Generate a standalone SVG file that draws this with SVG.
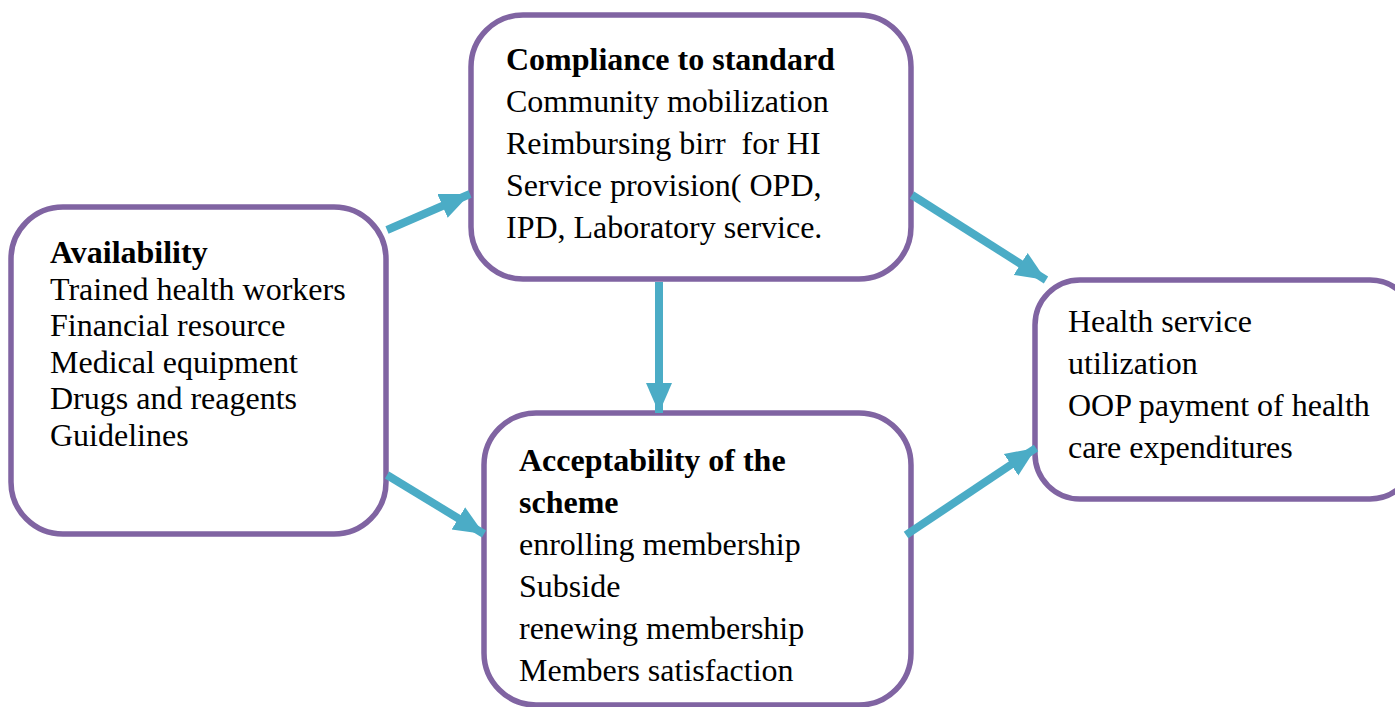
<svg xmlns="http://www.w3.org/2000/svg" width="1395" height="707" viewBox="0 0 1395 707">
  <defs>
    <style>
      .box { fill: #ffffff; stroke: #8064A2; stroke-width: 5.5; }
      .txt { font-family: "Liberation Serif", "Times New Roman", serif; font-size: 32px; fill: #000000; white-space: pre; }
      .b { font-weight: bold; }
      .conn { stroke: #4BACC6; stroke-width: 8; fill: none; marker-end: url(#head); }
    </style>
    <marker id="head" markerUnits="userSpaceOnUse" markerWidth="32" markerHeight="32" viewBox="0 0 32 32" refX="30" refY="16" orient="auto">
      <path d="M0,3 L30,16 L0,29 Z" fill="#4BACC6"/>
    </marker>
  </defs>
  <rect width="1395" height="707" fill="#ffffff"/>

  <g id="availability">
    <rect class="box" x="11" y="207" width="375" height="327" rx="52"/>
    <text class="txt" x="50" y="263"><tspan class="b">Availability</tspan><tspan x="50" dy="36.6">Trained health workers</tspan><tspan x="50" dy="36.6">Financial resource</tspan><tspan x="50" dy="36.6">Medical equipment</tspan><tspan x="50" dy="36.6">Drugs and reagents</tspan><tspan x="50" dy="36.6">Guidelines</tspan></text>
  </g>

  <g id="compliance">
    <rect class="box" x="471" y="15" width="440" height="264" rx="52"/>
    <text class="txt" x="506" y="70"><tspan class="b">Compliance to standard</tspan><tspan x="506" dy="42">Community mobilization</tspan><tspan x="506" dy="42">Reimbursing birr  for HI</tspan><tspan x="506" dy="42">Service provision( OPD,</tspan><tspan x="506" dy="42">IPD, Laboratory service.</tspan></text>
  </g>

  <g id="acceptability">
    <rect class="box" x="484" y="413" width="427" height="292" rx="52"/>
    <text class="txt" x="519" y="471"><tspan class="b">Acceptability of the</tspan><tspan class="b" x="519" dy="42">scheme</tspan><tspan x="519" dy="42">enrolling membership</tspan><tspan x="519" dy="42">Subside</tspan><tspan x="519" dy="42">renewing membership</tspan><tspan x="519" dy="42">Members satisfaction</tspan></text>
  </g>

  <g id="outcome">
    <rect class="box" x="1035" y="280" width="380" height="219" rx="45"/>
    <text class="txt" x="1068" y="332"><tspan>Health service</tspan><tspan x="1068" dy="42">utilization</tspan><tspan x="1068" dy="42">OOP payment of health</tspan><tspan x="1068" dy="42">care expenditures</tspan></text>
  </g>

  <g id="connectors">
    <line class="conn" x1="387" y1="230" x2="470" y2="194"/>
    <line class="conn" x1="387" y1="475" x2="484" y2="534"/>
    <line class="conn" x1="659" y1="282" x2="659" y2="413"/>
    <line class="conn" x1="912" y1="195" x2="1046" y2="280"/>
    <line class="conn" x1="906" y1="535" x2="1036" y2="448"/>
  </g>
</svg>
